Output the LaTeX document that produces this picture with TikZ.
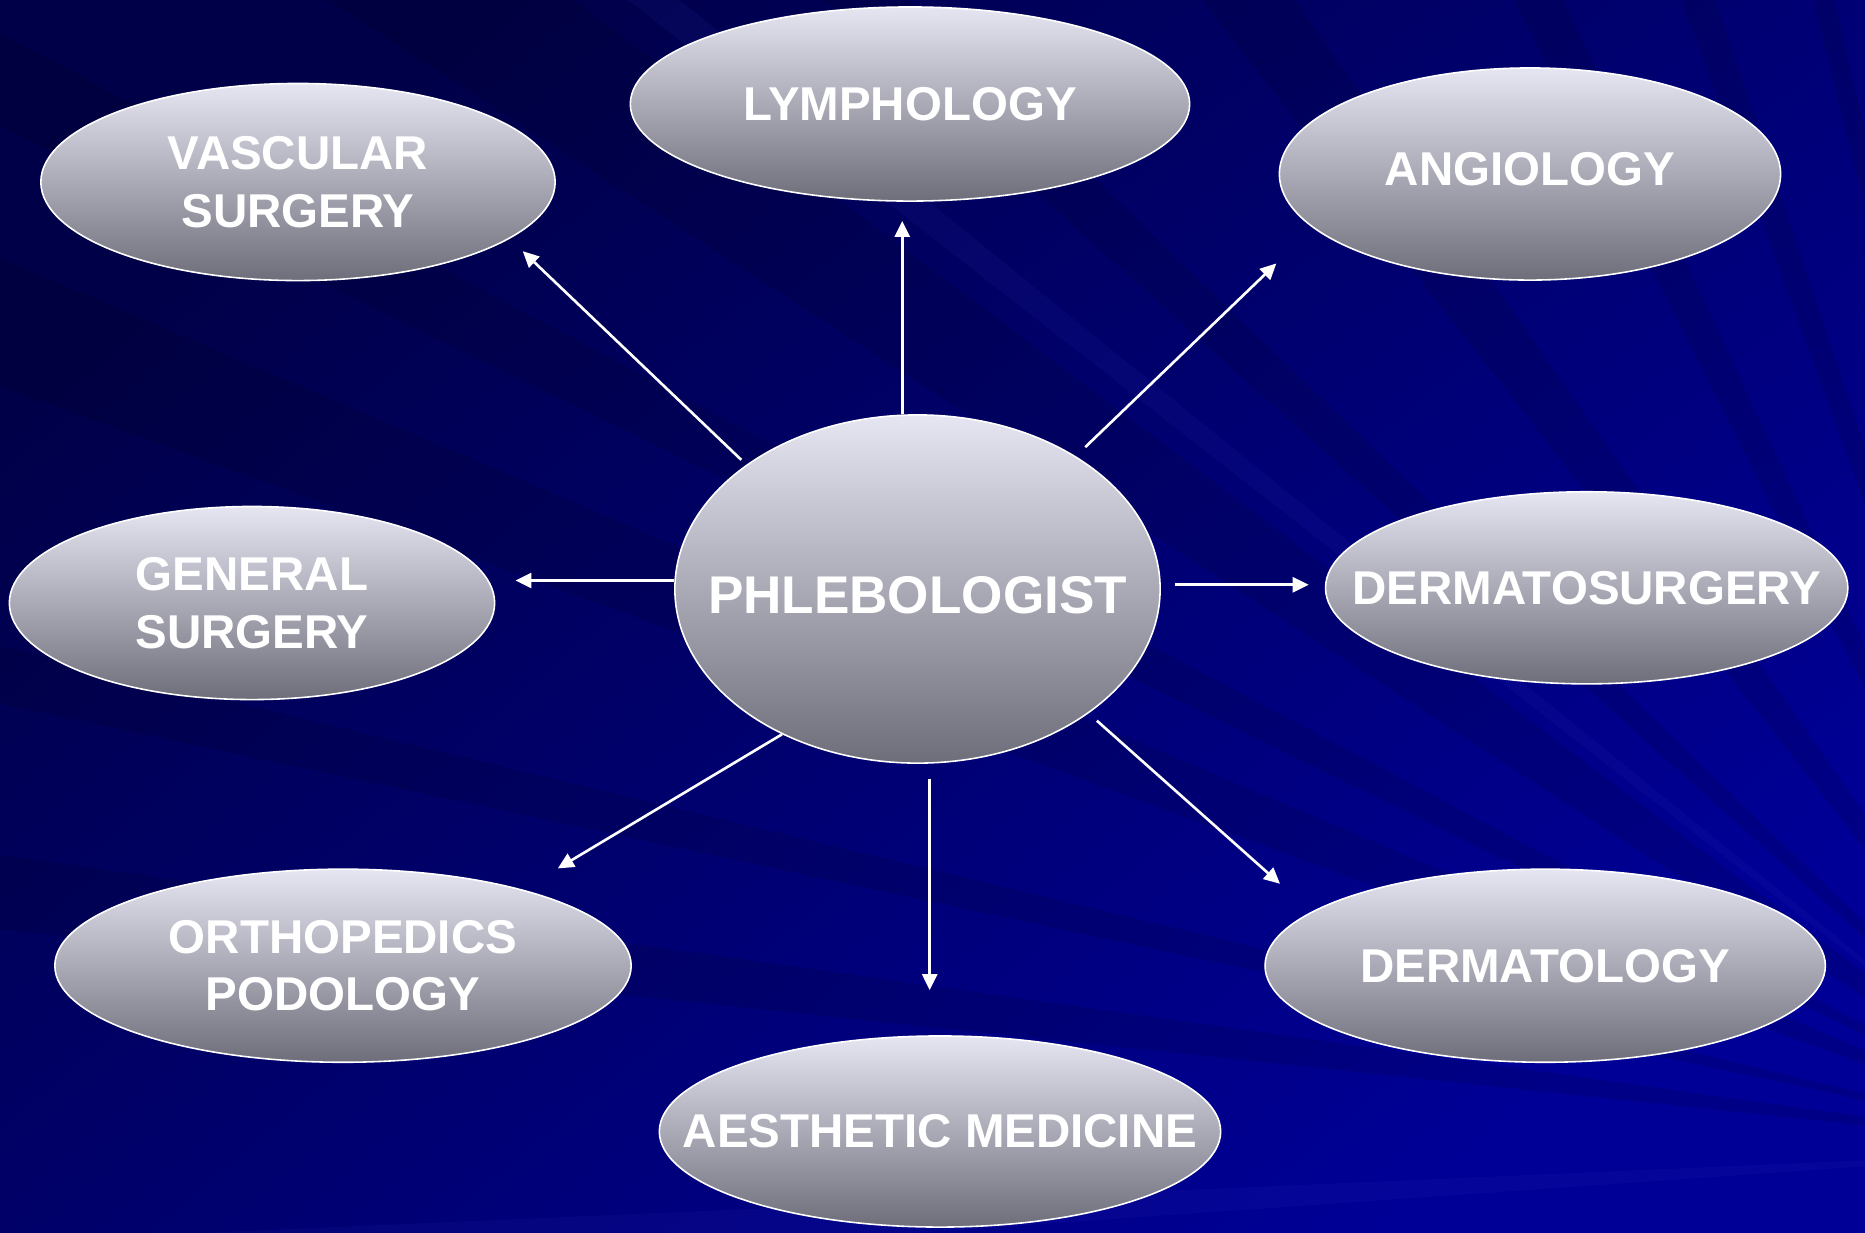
\documentclass[tikz,border=0pt]{standalone}
\usepackage{fontspec}
\setmainfont{Liberation Sans}
\usetikzlibrary{arrows.meta, shapes.geometric}

\definecolor{bgdark}{RGB}{0,0,72}
\definecolor{bglight}{RGB}{0,0,150}
\definecolor{streak}{RGB}{70,70,210}
\definecolor{fieldtop}{RGB}{230,230,242}
\definecolor{fieldbot}{RGB}{110,110,122}

\tikzset{
  field/.style={ellipse, draw=white, line width=0.45pt, inner sep=0pt,
    top color=fieldtop, bottom color=fieldbot},
  fieldtext/.style={text=white, align=center,
    font=\bfseries\fontsize{13.5pt}{16.4pt}\selectfont},
  arr/.style={draw=white, line width=0.75pt,
    -{Triangle[length=0.16cm, width=0.15cm]}},
}

\begin{document}
\begin{tikzpicture}[x=0.01cm, y=-0.01cm]
	% Background and streaks:
	\useasboundingbox (0, 0) rectangle (1865, 1232);
	\shade[top color=bgdark, bottom color=bglight, shading angle=40] (0, 0) rectangle (1865, 1232);
	\begin{scope}
		\clip (0, 0) rectangle (1865, 1232);
		\foreach \a/\w in {186/2, 192/1.5, 200/3, 206/2, 213/4, 222/2, 232/3, 243/2, 250/1.5, 256/1}
			\fill[black, opacity=0.1] (2100, 1150) -- +(\a:3200) -- +(\a+\w:3200) -- cycle;
		\foreach \a/\w in {176/1.5, 218/1, 262/1}
			\fill[streak, opacity=0.08] (2100, 1150) -- +(\a:3200) -- +(\a+\w:3200) -- cycle;
	\end{scope}
	% Fields:
	\node[field, minimum width=4.85cm, minimum height=3.48cm,
		label={[fieldtext, font=\bfseries\fontsize{15.1pt}{18pt}\selectfont, yshift=-0.06cm]center:PHLEBOLOGIST}] (phleb) at (917.5, 589){};
	\node[field, minimum width=5.59cm, minimum height=1.94cm, label={[fieldtext]center:LYMPHOLOGY}] (lymph) at (910, 104){};
	\node[field, minimum width=5.14cm, minimum height=1.97cm, label={[fieldtext]center:{VASCULAR\\SURGERY}}] (vasc) at (298, 182){};
	\node[field, minimum width=5.01cm, minimum height=2.12cm, label={[fieldtext, yshift=0.05cm]center:ANGIOLOGY}] (angio) at (1530, 174){};
	\node[field, minimum width=4.85cm, minimum height=1.93cm, label={[fieldtext]center:{GENERAL\\SURGERY}}] (gensurg) at (252, 603){};
	\node[field, minimum width=5.22cm, minimum height=1.92cm, label={[fieldtext]center:DERMATOSURGERY}] (dermsurg) at (1586.7, 587.8){};
	\node[field, minimum width=5.76cm, minimum height=1.93cm, label={[fieldtext]center:{ORTHOPEDICS\\PODOLOGY}}] (ortho) at (343, 965.7){};
	\node[field, minimum width=5.60cm, minimum height=1.93cm, label={[fieldtext]center:DERMATOLOGY}] (derm) at (1545.2, 965.7){};
	\node[field, minimum width=5.61cm, minimum height=1.91cm, label={[fieldtext]center:AESTHETIC MEDICINE}] (aesth) at (940, 1131.5){};
	% Arrows:
	\draw[arr, shorten >=0.19cm] (phleb.95) -- (phleb.95 |- lymph.south);
	\draw[arr, shorten <=0.07cm, shorten >=0.18cm] (phleb.144.9) -- (vasc.345.8);
	\draw[arr, shorten <=0.13cm, shorten >=0.51cm] (phleb.40.3) -- (angio.194.4);
	\draw[arr, shorten >=0.2cm] (phleb.178.6) -- (phleb.178.6 -| gensurg.east);
	\draw[arr, shorten <=0.14cm, shorten >=0.16cm] (phleb.1.5) -- (phleb.1.5 -| dermsurg.west);
	\draw[arr, shorten >=0.41cm] (phleb.227.1) -- (ortho.23.3);
	\draw[arr, shorten <=0.15cm, shorten >=0.45cm] (phleb.274.8) -- (phleb.274.8 |- aesth.north);
	\draw[arr, shorten <=0.11cm, shorten >=0.42cm] (phleb.324.6) -- (derm.167.3);
\end{tikzpicture}
\end{document}
